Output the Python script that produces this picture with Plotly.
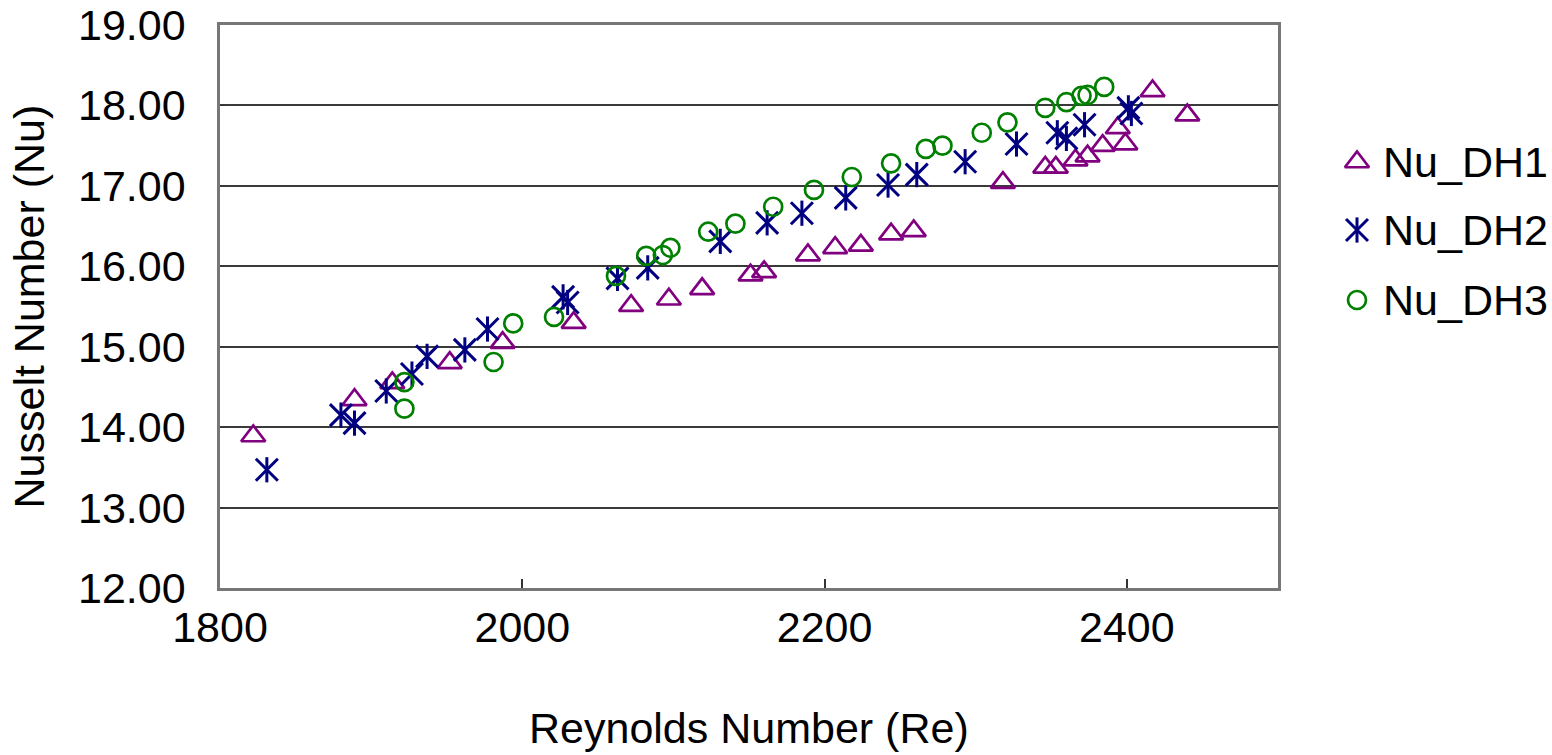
import plotly.graph_objects as go

# Reynolds number (Re) and Nusselt number (Nu) for the three hydraulic diameters
re_dh1 = [1822, 1889, 1914, 1952, 1987, 2034, 2072, 2097, 2119, 2151, 2160, 2189, 2207,
          2224, 2244, 2259, 2318, 2346, 2353, 2366, 2374, 2384, 2394, 2399, 2417, 2440]
nu_dh1 = [13.89, 14.34, 14.55, 14.80, 15.05, 15.30, 15.51, 15.59, 15.72, 15.89, 15.93, 16.14, 16.23,
          16.26, 16.40, 16.44, 17.04, 17.23, 17.23, 17.32, 17.37, 17.50, 17.72, 17.52, 18.18, 17.88]

re_dh2 = [1831, 1880, 1889, 1910, 1927, 1937, 1962, 1977, 2027, 2030, 2063, 2083, 2131,
          2162, 2185, 2214, 2242, 2261, 2293, 2327, 2354, 2360, 2372, 2401, 2403]
nu_dh2 = [13.47, 14.15, 14.05, 14.45, 14.66, 14.88, 14.96, 15.22, 15.62, 15.55, 15.85, 15.98, 16.31,
          16.54, 16.66, 16.85, 17.01, 17.14, 17.30, 17.52, 17.66, 17.59, 17.76, 17.97, 17.90]

re_dh3 = [1922, 1922, 1981, 1994, 2021, 2062, 2082, 2093, 2098, 2123, 2141, 2166,
          2193, 2218, 2244, 2267, 2278, 2304, 2321, 2346, 2360, 2370, 2374, 2385]
nu_dh3 = [14.56, 14.23, 14.81, 15.29, 15.37, 15.88, 16.13, 16.14, 16.23, 16.43, 16.53, 16.74,
          16.95, 17.11, 17.28, 17.46, 17.50, 17.66, 17.79, 17.97, 18.04, 18.12, 18.13, 18.23]

series_names = ["Nu_DH1", "Nu_DH2", "Nu_DH3"]
x_ticks = [1800, 2000, 2200, 2400]
y_ticks = [12, 13, 14, 15, 16, 17, 18, 19]

PURPLE = "#800080"
NAVY = "#000080"
GREEN = "#008000"
FONT = "Liberation Sans, Arial, sans-serif"
FS = 43

W, H = 1552, 755
ML, MT, MB = 220, 25, 167
PLOT_RIGHT = 1278
plot_w = W - ML
plot_h = H - MT - MB
x_dom_end = (PLOT_RIGHT - ML) / plot_w

tri = dict(symbol="triangle-up-open", size=21, color=PURPLE, line=dict(color=PURPLE, width=2.7))
ast_x = dict(symbol="x-thin-open", size=22, color=NAVY, line=dict(color=NAVY, width=3))
ast_v = dict(symbol="line-ns-open", size=18, color=NAVY, line=dict(color=NAVY, width=3))
circ = dict(symbol="circle-open", size=18, color=GREEN, line=dict(color=GREEN, width=2.7))

fig = go.Figure()
fig.add_trace(go.Scatter(x=re_dh1, y=nu_dh1, mode="markers", marker=tri, name=series_names[0]))
# asterisk = diagonal cross + vertical stroke
fig.add_trace(go.Scatter(x=re_dh2, y=nu_dh2, mode="markers", marker=ast_x, name=series_names[1]))
fig.add_trace(go.Scatter(x=re_dh2, y=nu_dh2, mode="markers", marker=ast_v, name=series_names[1]))
fig.add_trace(go.Scatter(x=re_dh3, y=nu_dh3, mode="markers", marker=circ, name=series_names[2]))

# legend panel on its own pixel-scaled axes to the right of the plot
leg_sym_x = 1357
leg_rows = [162, 230, 300]
leg_styles = [[tri], [ast_x, ast_v], [circ]]
for row_y, styles in zip(leg_rows, leg_styles):
    for st in styles:
        fig.add_trace(go.Scatter(x=[leg_sym_x], y=[row_y], mode="markers", marker=st,
                                 xaxis="x2", yaxis="y2", hoverinfo="skip"))

annotations = []
for row_y, name in zip(leg_rows, series_names):
    annotations.append(dict(x=leg_sym_x + 24, y=row_y, xref="x2", yref="y2", text=name,
                            showarrow=False, xanchor="left", yanchor="middle",
                            font=dict(family=FONT, size=FS, color="#000000")))

annotations.append(dict(x=x_dom_end / 2, y=-(728 - (H - MB)) / plot_h, xref="paper", yref="paper",
                        text="Reynolds Number (Re)", showarrow=False,
                        xanchor="center", yanchor="middle",
                        font=dict(family=FONT, size=FS, color="#000000")))
annotations.append(dict(x=-(ML - 28) / plot_w, y=0.5, xref="paper", yref="paper",
                        text="Nusselt Number (Nu)", showarrow=False, textangle=-90,
                        xanchor="center", yanchor="middle",
                        font=dict(family=FONT, size=FS, color="#000000")))

fig.update_layout(
    width=W, height=H,
    margin=dict(l=ML, r=0, t=MT, b=MB, pad=0),
    paper_bgcolor="#ffffff", plot_bgcolor="#ffffff",
    showlegend=False,
    annotations=annotations,
    xaxis=dict(domain=[0, x_dom_end], range=[1800, 2500], tickvals=x_ticks,
               ticks="inside", ticklen=9, tickwidth=1.5, tickcolor="#333333",
               showgrid=False, zeroline=False,
               showline=True, mirror=True, linecolor="#777777", linewidth=2.5,
               tickfont=dict(family=FONT, size=FS, color="#000000"),
               ticklabelstandoff=0),
    yaxis=dict(range=[12, 19], tickvals=y_ticks, tickformat=".2f",
               ticks="inside", ticklen=6, tickcolor="#333333",
               showgrid=True, gridcolor="#3a3a3a", gridwidth=1.5, zeroline=False,
               showline=True, mirror=True, linecolor="#777777", linewidth=2.5,
               tickfont=dict(family=FONT, size=FS, color="#000000"),
               ticklabelstandoff=23),
    xaxis2=dict(domain=[x_dom_end, 1], range=[PLOT_RIGHT, W], visible=False, fixedrange=True),
    yaxis2=dict(domain=[0, 1], range=[H - MB, MT], visible=False, fixedrange=True,
                anchor="x2"),
)

fig.write_html("out.html")
